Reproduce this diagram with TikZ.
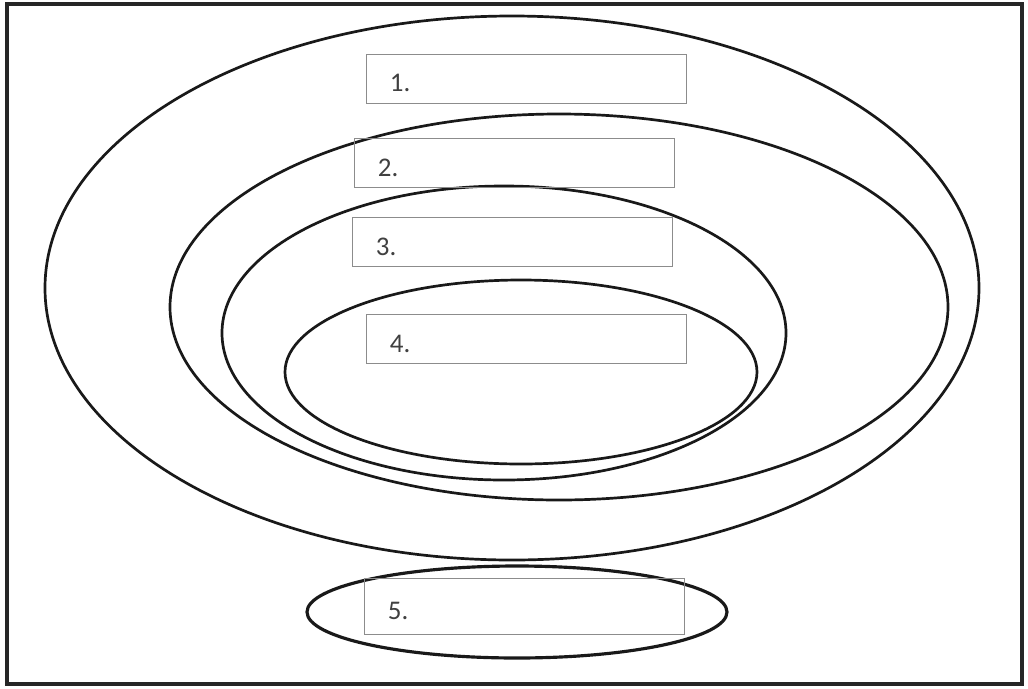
\documentclass[tikz,border=0pt]{standalone}
\usepackage{fontspec}
\setsansfont{Carlito}
\usepackage{tikz}
\usetikzlibrary{positioning}

\begin{document}
\begin{tikzpicture}[x=0.03cm, y=-0.03cm,
        frame/.style={draw=black!85, line width=2.6pt},
        ring/.style={draw=black!90, line width=2.3pt},
        lvlbox/.style={draw=black!45, line width=0.5pt, minimum width=9.6cm,
                        minimum height=1.47cm, inner xsep=0.72cm, text width=8.16cm,
                        align=left, text height=0.8cm, text depth=0cm,
                        font=\sffamily\fontsize{23}{26}\selectfont, text=black!75}
    ]
    \useasboundingbox (0,0) rectangle (1028,688);
    % ---- moldura ----
    \draw[frame] (7,4) rectangle (1022,684);

    % ---- elipses (de fora para dentro) ----
    \draw[ring] (512,288) ellipse [x radius=467, y radius=272];
    \draw[ring] (559,307) ellipse [x radius=389, y radius=193];
    \draw[ring] (504,333) ellipse [x radius=282, y radius=147];
    \draw[ring] (521,372) ellipse [x radius=236, y radius=92];
    \draw[ring, line width=2.7pt] (517,612) ellipse [x radius=210, y radius=46];

    % ---- caixas ----
    \node[lvlbox] (lvl1) at (526,78.5) {1.};
    \node[lvlbox] (lvl2) at (514,163) {2.};
    \node[lvlbox] (lvl3) at (512,242) {3.};
    \node[lvlbox] (lvl4) at (526,339) {4.};
    \node[lvlbox, minimum height=1.68cm] (lvl5) at (524,606) {5.};
\end{tikzpicture}
\end{document}
